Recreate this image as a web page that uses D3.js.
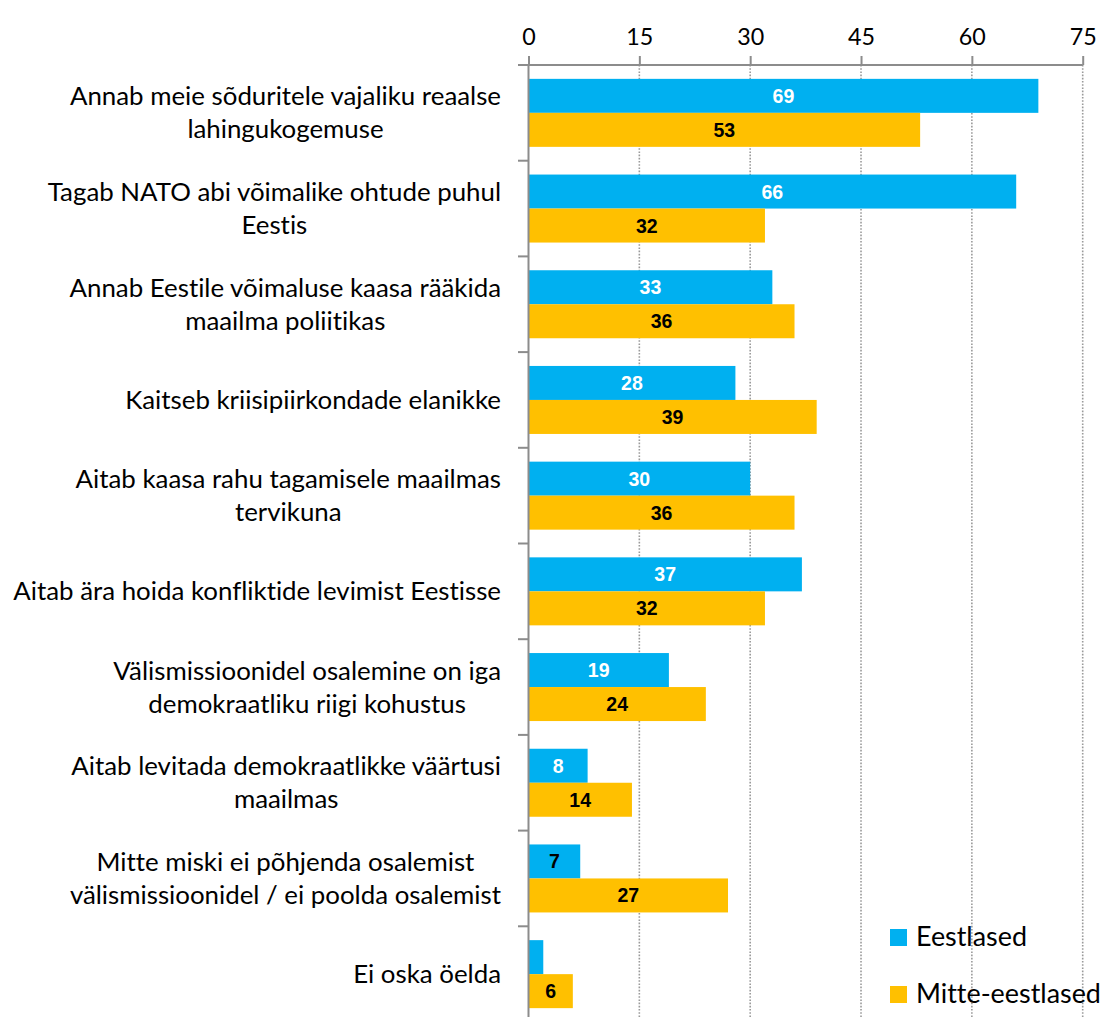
<!DOCTYPE html>
<html>
<head>
<meta charset="utf-8">
<script src="https://cdn.jsdelivr.net/npm/d3@7"></script>
<style>
  html, body { margin: 0; padding: 0; background: #fff; }
  svg { display: block; }
  text { font-variant-ligatures: none; font-feature-settings: "liga" 0, "clig" 0; }
</style>
</head>
<body>
<svg id="chart" width="1104" height="1017"></svg>
<script>
const categories = [
  "Annab meie sõduritele vajaliku reaalse\nlahingukogemuse",
  "Tagab NATO abi võimalike ohtude puhul\nEestis",
  "Annab Eestile võimaluse kaasa rääkida\nmaailma poliitikas",
  "Kaitseb kriisipiirkondade elanikke",
  "Aitab kaasa rahu tagamisele maailmas\ntervikuna",
  "Aitab ära hoida konfliktide levimist Eestisse",
  "Välismissioonidel osalemine on iga\ndemokraatliku riigi kohustus",
  "Aitab levitada demokraatlikke väärtusi\nmaailmas",
  "Mitte miski ei põhjenda osalemist\nvälismissioonidel / ei poolda osalemist",
  "Ei oska öelda"
];
const seriesNames = ["Eestlased", "Mitte-eestlased"];
const eestlased = [69, 66, 33, 28, 30, 37, 19, 8, 7, 2];
const mitteEestlased = [53, 32, 36, 39, 36, 32, 24, 14, 27, 6];
const tickValues = [0, 15, 30, 45, 60, 75];

(function () {
const colors = ["#00B0F0", "#FFC000"];
const FONT = "Lato, 'Open Sans', sans-serif";
const LABEL_FONT = "'Liberation Sans', Arial, sans-serif";

const svg = d3.select("#chart");

function measure(text, size, family, weight) {
  const t = svg.append("text").attr("font-family", family)
    .attr("font-weight", weight || "normal").attr("font-size", size).text(text);
  const w = t.node().getComputedTextLength();
  t.remove();
  return w;
}
function fitSize(text, target, family, weight) {
  return 100 * target / measure(text, 100, family, weight);
}
const catSize = fitSize("Kaitseb kriisipiirkondade elanikke", 376, FONT);
const tickSize = fitSize("15", 27, FONT);
const legSize = fitSize("Mitte-eestlased", 185, FONT);

const x0 = 528.5, x1 = 1082.7;
const topY = 65, step = 95.7;
const x = d3.scaleLinear().domain([0, 75]).range([x0, x1]);
const pad = 1 - 68 / step;
const y = d3.scaleBand().domain(d3.range(categories.length))
  .range([topY, topY + step * categories.length])
  .paddingInner(pad).paddingOuter(pad / 2);
const ys = d3.scaleBand().domain([0, 1]).range([0, y.bandwidth()]);

const axisColor = "#8c8c8c";

svg.append("g").selectAll("line").data(tickValues.slice(1)).join("line")
  .attr("x1", d => x(d)).attr("x2", d => x(d))
  .attr("y1", topY).attr("y2", 1017)
  .attr("stroke", "#9a9a9a").attr("stroke-width", 1.6)
  .attr("stroke-dasharray", "1.6,1.6");

const xAxis = d3.axisTop(x).tickValues(tickValues).tickSize(9).tickPadding(11).tickSizeOuter(0);
const gx = svg.append("g").attr("transform", `translate(0,${topY})`).call(xAxis);
gx.select(".domain").remove();
gx.append("line").attr("x1", 518).attr("x2", x1).attr("y1", 0).attr("y2", 0)
  .attr("stroke", axisColor).attr("stroke-width", 2);
gx.selectAll(".tick line").attr("stroke", axisColor).attr("stroke-width", 2);
gx.selectAll(".tick text").attr("font-family", FONT).attr("font-size", tickSize)
  .attr("fill", "#000");

const data = categories.map((c, i) => ({ i, vals: [eestlased[i], mitteEestlased[i]] }));
const groups = svg.append("g").selectAll("g").data(data).join("g")
  .attr("transform", d => `translate(0,${y(d.i)})`);
groups.selectAll("rect").data(d => d.vals.map((v, s) => ({ v, s, i: d.i }))).join("rect")
  .attr("x", x(0)).attr("y", d => ys(d.s))
  .attr("width", d => x(d.v) - x(0)).attr("height", ys.bandwidth())
  .attr("fill", d => colors[d.s]);
groups.selectAll("text").data(d => d.vals.map((v, s) => ({ v, s, i: d.i })).filter(d => d.v >= 3)).join("text")
  .attr("x", d => (x(d.v) + x(0)) / 2)
  .attr("y", d => ys(d.s) + ys.bandwidth() / 2 + 7)
  .attr("text-anchor", "middle")
  .attr("font-family", LABEL_FONT).attr("font-weight", "bold").attr("font-size", 19.5)
  .attr("fill", d => (d.s === 0 && d.i !== 8) ? "#fff" : "#000")
  .text(d => d.v);

const yAxisG = svg.append("g");
yAxisG.append("line").attr("x1", x0).attr("x2", x0).attr("y1", topY).attr("y2", 1017)
  .attr("stroke", axisColor).attr("stroke-width", 2);
yAxisG.selectAll(".bt").data(d3.range(1, categories.length)).join("line")
  .attr("class", "bt")
  .attr("x1", 518).attr("x2", x0)
  .attr("y1", d => topY + step * d).attr("y2", d => topY + step * d)
  .attr("stroke", axisColor).attr("stroke-width", 2);

const lineH = 33;
const rightEdge = 501;
categories.forEach((c, i) => {
  const lines = c.split("\n");
  const cy = topY + step * i + step / 2;
  const maxW = d3.max(lines, ln => measure(ln, catSize, FONT));
  const cx = rightEdge - maxW / 2;
  const t = svg.append("text").attr("text-anchor", "middle")
    .attr("font-family", FONT).attr("font-size", catSize).attr("fill", "#000");
  lines.forEach((ln, k) => {
    t.append("tspan").attr("x", cx)
      .attr("y", cy + 9 + (k - (lines.length - 1) / 2) * lineH)
      .text(ln);
  });
});

const leg = svg.append("g");
seriesNames.forEach((n, s) => {
  const ly = 929 + s * 57;
  leg.append("rect").attr("x", 890).attr("y", ly).attr("width", 17).attr("height", 17)
    .attr("fill", colors[s]);
  leg.append("text").attr("x", 916).attr("y", ly + 17)
    .attr("font-family", FONT).attr("font-size", legSize).attr("fill", "#000").text(n);
});
})();
</script>
</body>
</html>
